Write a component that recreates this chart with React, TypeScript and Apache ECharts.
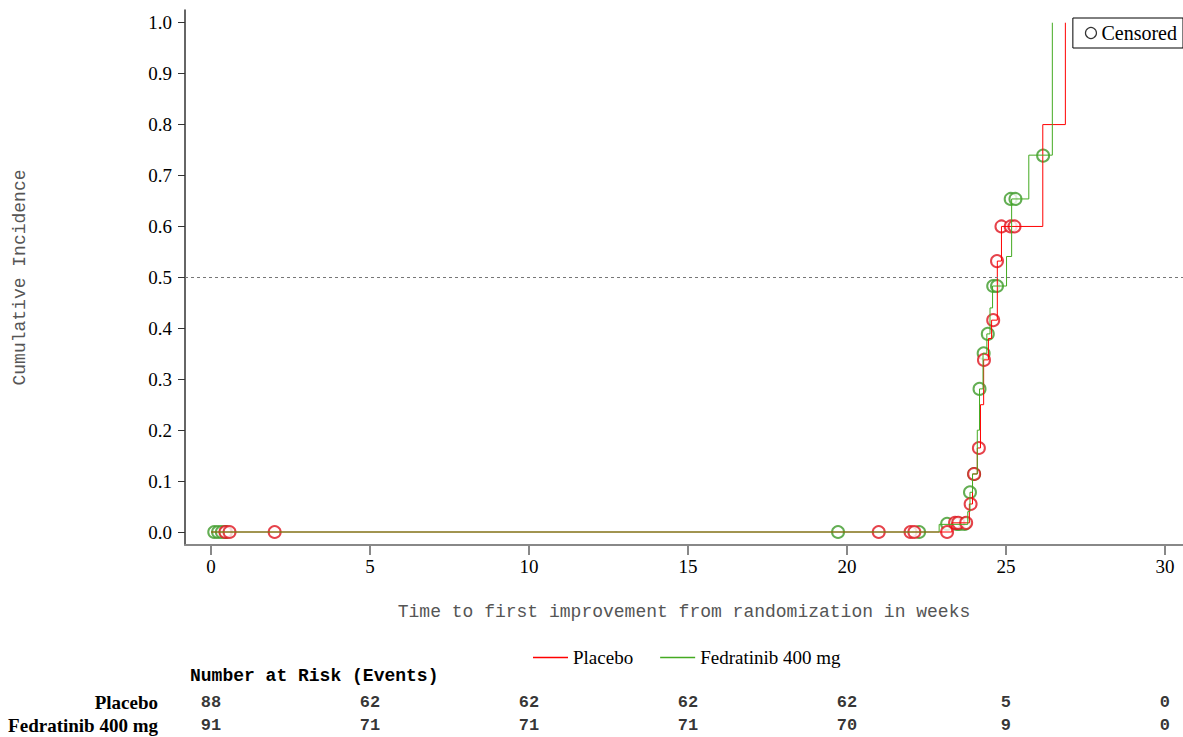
import React, { useEffect, useRef } from 'react';
import * as echarts from 'echarts';

// Step curves (time in weeks, cumulative incidence)
const placeboTimes = [0, 23.3, 23.85, 23.95, 24.1, 24.2, 24.3, 24.45, 24.55, 24.73, 24.86, 26.16, 26.87];
const placeboValues = [0, 0.018, 0.055, 0.114, 0.165, 0.25, 0.338, 0.38, 0.416, 0.532, 0.6, 0.8, 1.0];
const fedTimes = [0, 22.9, 23.8, 23.87, 23.95, 24.1, 24.17, 24.28, 24.4, 24.5, 24.58, 25.02, 25.18, 25.72, 26.46];
const fedValues = [0, 0.015, 0.04, 0.078, 0.114, 0.2, 0.281, 0.351, 0.389, 0.44, 0.483, 0.541, 0.654, 0.74, 1.0];

// Censored observations
const placeboCensTimes = [0.45, 0.58, 2.0, 21.0, 22.0, 22.12, 23.15, 23.4, 23.5, 23.75, 23.89, 24.0, 24.15, 24.31, 24.6, 24.72, 24.86, 25.15, 25.27];
const placeboCensValues = [0, 0, 0, 0, 0, 0, 0, 0.018, 0.018, 0.018, 0.055, 0.114, 0.165, 0.338, 0.416, 0.532, 0.6, 0.6, 0.6];
const fedCensTimes = [0.1, 0.22, 0.34, 0.47, 19.72, 22.27, 23.15, 23.45, 23.55, 23.7, 23.87, 24.0, 24.17, 24.3, 24.43, 24.6, 24.72, 25.15, 25.3, 26.17];
const fedCensValues = [0, 0, 0, 0, 0, 0, 0.016, 0.016, 0.016, 0.016, 0.078, 0.114, 0.281, 0.351, 0.389, 0.483, 0.483, 0.654, 0.654, 0.739];

// Axis ticks
const xTicks = [0, 5, 10, 15, 20, 25, 30];
const yTicks = [0, 0.1, 0.2, 0.3, 0.4, 0.5, 0.6, 0.7, 0.8, 0.9, 1.0];

// Number at risk
const riskGroups = ['Placebo', 'Fedratinib 400 mg'];
const riskTimes = [0, 5, 10, 15, 20, 25, 30];
const placeboRisk = [88, 62, 62, 62, 62, 5, 0];
const fedRisk = [91, 71, 71, 71, 70, 9, 0];

const RED = '#ff0000';
const GREEN = '#44aa22';
const RED_C = '#e0141e';
const GREEN_C = '#3c9a28';

export default function App() {
  const ref = useRef<HTMLDivElement>(null);
  useEffect(() => {
    const chart = echarts.init(ref.current!, null, { renderer: 'svg' });
    const zip = (a: number[], b: number[]) => a.map((t, i) => [t, b[i]]);
    const riskData = [
      ...riskTimes.map((t, i) => [t, riskGroups[0], placeboRisk[i]]),
      ...riskTimes.map((t, i) => [t, riskGroups[1], fedRisk[i]]),
    ];
    chart.setOption({
      animation: false,
      backgroundColor: '#fff',
      grid: [
        { left: 185, right: 0, top: 10, bottom: 192, containLabel: false },
        { left: 185, right: 0, top: 691, height: 48, containLabel: false },
      ],
      xAxis: [
        {
          type: 'value', gridIndex: 0, min: -0.82, max: 30.57,
          name: 'Time to first improvement from randomization in weeks',
          nameLocation: 'middle', nameGap: 58,
          nameTextStyle: { fontFamily: 'Liberation Mono', fontSize: 18, color: '#555' },
          axisLine: { show: true, onZero: false, lineStyle: { color: '#888', width: 2 } },
          axisTick: { show: true, length: 10, customValues: xTicks, lineStyle: { color: '#888', width: 2 } },
          axisLabel: { customValues: xTicks, margin: 12, fontFamily: 'Liberation Serif', fontSize: 19, color: '#000' },
          splitLine: { show: false },
        },
        {
          type: 'value', gridIndex: 1, min: -0.82, max: 30.57, show: false,
        },
      ],
      yAxis: [
        {
          type: 'value', gridIndex: 0, min: -0.0255, max: 1.025,
          name: 'Cumulative Incidence', nameLocation: 'middle', nameGap: 156, nameRotate: 90,
          nameTextStyle: { fontFamily: 'Liberation Mono', fontSize: 18, color: '#555' },
          axisLine: { show: true, onZero: false, lineStyle: { color: '#333', width: 1.5 } },
          axisTick: { show: true, length: 7, customValues: yTicks, lineStyle: { color: '#333', width: 1 } },
          axisLabel: {
            customValues: yTicks, margin: 13, fontFamily: 'Liberation Serif', fontSize: 19, color: '#000',
            formatter: (v: number) => v.toFixed(1),
          },
          splitLine: { show: false },
        },
        {
          type: 'category', gridIndex: 1, data: riskGroups, inverse: true,
          axisLine: { show: false }, axisTick: { show: false },
          axisLabel: { interval: 0, margin: 27, fontFamily: 'Liberation Serif', fontSize: 19, fontWeight: 'bold', color: '#000' },
        },
      ],
      legend: [
        {
          right: 0, top: 18, orient: 'horizontal',
          borderColor: '#000', borderWidth: 1, padding: [5, 6, 5, 12], itemGap: 6,
          itemWidth: 11, itemHeight: 11,
          textStyle: { fontFamily: 'Liberation Serif', fontSize: 20, color: '#000' },
          data: [{ name: 'Censored', icon: 'circle', itemStyle: { color: '#fff', borderColor: '#000', borderWidth: 1.2 } }],
        },
        {
          left: 528, top: 643, itemWidth: 35, itemHeight: 1.5, itemGap: 27,
          textStyle: { fontFamily: 'Liberation Serif', fontSize: 19, color: '#000' },
          data: [
            { name: 'Placebo', icon: 'rect' },
            { name: 'Fedratinib 400 mg', icon: 'rect' },
          ],
        },
      ],
      graphic: [
        {
          type: 'text', left: 190, top: 667,
          style: { text: 'Number at Risk (Events)', font: 'bold 18px "Liberation Mono"', fill: '#000' },
        },
      ],
      series: [
        {
          name: 'Placebo', type: 'line', step: 'end', symbol: 'none', xAxisIndex: 0, yAxisIndex: 0,
          data: zip(placeboTimes, placeboValues),
          lineStyle: { color: RED, width: 1 }, itemStyle: { color: RED },
          markLine: {
            silent: true, symbol: 'none', label: { show: false },
            lineStyle: { color: '#777', type: [3, 3], width: 1 },
            data: [{ yAxis: 0.5 }],
          },
        },
        {
          name: 'Fedratinib 400 mg', type: 'line', step: 'end', symbol: 'none', xAxisIndex: 0, yAxisIndex: 0,
          data: zip(fedTimes, fedValues),
          lineStyle: { color: GREEN, width: 1 }, itemStyle: { color: GREEN },
        },
        {
          name: 'Fedratinib censored', type: 'scatter', symbol: 'emptyCircle', symbolSize: 12,
          xAxisIndex: 0, yAxisIndex: 0, data: zip(fedCensTimes, fedCensValues),
          itemStyle: { color: GREEN_C, borderColor: GREEN_C, borderWidth: 1.5 },
        },
        {
          name: 'Placebo censored', type: 'scatter', symbol: 'emptyCircle', symbolSize: 12,
          xAxisIndex: 0, yAxisIndex: 0, data: zip(placeboCensTimes, placeboCensValues),
          itemStyle: { color: RED_C, borderColor: RED_C, borderWidth: 1.5 },
        },
        {
          name: 'Censored', type: 'scatter', symbol: 'circle', data: [],
          xAxisIndex: 0, yAxisIndex: 0,
          itemStyle: { color: '#fff', borderColor: '#000', borderWidth: 1.2 },
        },
        {
          name: 'risk', type: 'scatter', xAxisIndex: 1, yAxisIndex: 1, symbolSize: 1,
          itemStyle: { color: 'rgba(0,0,0,0)' }, silent: true,
          data: riskData,
          label: {
            show: true, position: 'inside', formatter: (p: any) => String(p.value[2]),
            fontFamily: 'Liberation Mono', fontWeight: 'bold', fontSize: 17, color: '#000',
          },
        },
      ],
    });
    return () => chart.dispose();
  }, []);
  return <div ref={ref} style={{ position: 'absolute', left: 0, top: 0, width: 1183, height: 737 }} />;
}
